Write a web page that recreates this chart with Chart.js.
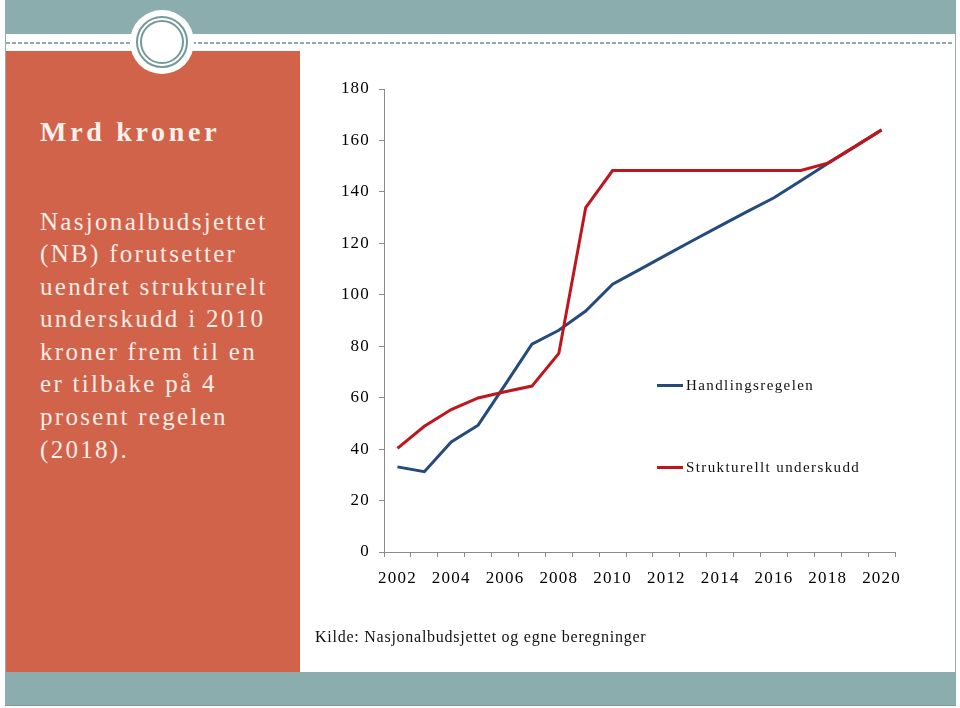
<!DOCTYPE html>
<html>
<head>
<meta charset="utf-8">
<script src="https://cdn.jsdelivr.net/npm/chart.js@4/dist/chart.umd.min.js"></script>
<style>
  html, body { margin:0; padding:0; background:#fff; }
  body { width:960px; height:708px; position:relative; overflow:hidden; font-family:'Liberation Serif','Times New Roman',serif; }
  .abs { position:absolute; }
  #frame { left:5px; top:0px; width:949px; height:704px; border:1px solid #9aabab; }
  #topbar { left:5px; top:0px; width:951px; height:34px; background:#8badad; }
  #dash { left:6px; top:42px; width:948px; height:2px; background:repeating-linear-gradient(to right,#93a9a9 0 4px,transparent 4px 6px); }
  #panel { left:6px; top:51px; width:294px; height:621px; background:#d1634a; }
  #botbar { left:5px; top:672px; width:951px; height:33px; background:#8badad; border-bottom:1px solid #7f9c9c; }
  #circle { left:130px; top:10px; width:64px; height:64px; border-radius:50%; background:#fff; z-index:5; }
  .ring { position:absolute; border-radius:50%; border:2px solid #739999; box-sizing:border-box; }
  #title { left:40px; top:116px; font-size:28px; font-weight:bold; letter-spacing:3.7px; color:#fbf1ec; line-height:32px; white-space:nowrap; }
  #body { left:40px; top:205.5px; font-size:25px; letter-spacing:2.3px; color:#f9ede7; line-height:32.6px; white-space:nowrap; }
  #chartbox { left:300px; top:51px; width:655px; height:621px; }
  .leg { position:absolute; font-size:15px; letter-spacing:1.4px; color:#111; white-space:nowrap; line-height:18px; }
  .sw { position:absolute; width:26px; height:3px; }
  #kilde { left:315px; top:627px; font-size:16px; letter-spacing:0.75px; color:#111; white-space:nowrap; line-height:20px; }
</style>
</head>
<body>
<div id="frame" class="abs"></div>
<div id="topbar" class="abs"></div>
<div id="dash" class="abs"></div>
<div id="panel" class="abs"></div>
<div id="botbar" class="abs"></div>
<div id="circle" class="abs">
  <div class="ring" style="left:6px;top:6px;width:52px;height:52px;"></div>
  <div class="ring" style="left:10px;top:10px;width:44px;height:44px;"></div>
</div>
<div id="title" class="abs">Mrd kroner</div>
<div id="body" class="abs">Nasjonalbudsjettet<br>(NB) forutsetter<br>uendret strukturelt<br>underskudd i 2010<br>kroner frem til en<br>er tilbake på 4<br>prosent regelen<br>(2018).</div>
<div id="chartbox" class="abs"><canvas id="c" width="655" height="621" style="width:655px;height:621px;"></canvas></div>
<div class="sw" style="left:657px;top:384px;background:#254a7c;"></div>
<div class="leg" style="left:686px;top:376px;">Handlingsregelen</div>
<div class="sw" style="left:657px;top:466px;background:#c0151c;"></div>
<div class="leg" style="left:686px;top:458px;">Strukturellt underskudd</div>
<div id="kilde" class="abs">Kilde: Nasjonalbudsjettet og egne beregninger</div>
<script>
const years = ['2002','2003','2004','2005','2006','2007','2008','2009','2010','2011','2012','2013','2014','2015','2016','2017','2018','2019','2020'];
const handlingsregelen = [33.1, 31.2, 42.8, 49.3, 65.0, 80.8, 86.2, 93.7, 104.1, 109.8, 115.5, 121.2, 126.8, 132.3, 137.7, 144.3, 151.0, 157.5, 164.1];
const strukturelltUnderskudd = [40.3, 48.9, 55.4, 59.9, 62.3, 64.5, 77.2, 133.9, 148.3, 148.3, 148.3, 148.3, 148.3, 148.3, 148.3, 148.3, 151.2, 157.6, 164.1];
const yTicks = [0, 20, 40, 60, 80, 100, 120, 140, 160, 180];

const font = { family: "'Liberation Serif','Times New Roman',serif", size: 17 };
const axisColor = '#8a8a8a';

new Chart(document.getElementById('c'), {
  type: 'line',
  data: {
    labels: years,
    datasets: [
      { label: 'Handlingsregelen', data: handlingsregelen, borderColor: '#254a7c', borderWidth: 3, pointRadius: 0, tension: 0, fill: false, order: 1 },
      { label: 'Strukturellt underskudd', data: strukturelltUnderskudd, borderColor: '#c0151c', borderWidth: 3, pointRadius: 0, tension: 0, fill: false, order: 0 }
    ]
  },
  options: {
    responsive: false,
    animation: false,
    events: [],
    layout: { autoPadding: false, padding: { left: 0, right: 60, top: 38, bottom: 0 } },
    plugins: { legend: { display: false }, tooltip: { enabled: false } },
    scales: {
      x: {
        type: 'category',
        offset: true,
        grid: { offset: true, drawOnChartArea: false, drawTicks: true, tickLength: 5, color: axisColor },
        border: { color: axisColor, width: 1 },
        ticks: {
          autoSkip: false, maxRotation: 0, minRotation: 0, padding: 11, color: '#000', font: font,
          callback: function (v, i) { return i % 2 === 0 ? years[i] : ''; }
        },
        afterFit: function (s) { s.height = 120; }
      },
      y: {
        min: yTicks[0], max: yTicks[yTicks.length - 1],
        grid: { drawOnChartArea: false, drawTicks: true, tickLength: 5, color: axisColor },
        border: { color: axisColor, width: 1 },
        ticks: { stepSize: 20, padding: 9, color: '#000', font: font },
        afterBuildTicks: function (s) { s.ticks = yTicks.map(v => ({ value: v })); },
        afterFit: function (s) { s.width = 84; }
      }
    }
  },
  plugins: [{
    id: 'spacing',
    beforeDraw: function (chart) { chart.ctx.letterSpacing = '1.2px'; }
  }]
});
</script>
</body>
</html>
